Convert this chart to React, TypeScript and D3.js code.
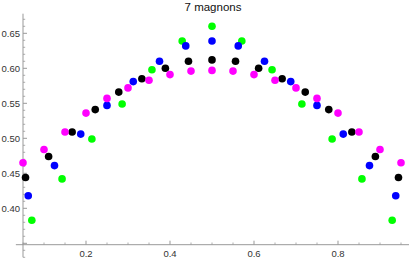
import * as d3 from "d3";

// series, one per chain length (colour picked to match the reference)
const greenX = [0.071, 0.143, 0.214, 0.286, 0.357, 0.429, 0.5, 0.571, 0.643, 0.714, 0.786, 0.857, 0.929];
const greenY = [0.383, 0.442, 0.499, 0.549, 0.598, 0.639, 0.66, 0.639, 0.598, 0.549, 0.499, 0.442, 0.383];

const blueX = [0.0625, 0.125, 0.1875, 0.25, 0.3125, 0.375, 0.4375, 0.5, 0.5625, 0.625, 0.6875, 0.75, 0.8125, 0.875, 0.9375];
const blueY = [0.418, 0.461, 0.506, 0.547, 0.581, 0.61, 0.632, 0.639, 0.632, 0.61, 0.581, 0.547, 0.506, 0.461, 0.418];

const blackX = [0.056, 0.111, 0.167, 0.222, 0.278, 0.333, 0.389, 0.444, 0.5, 0.556, 0.611, 0.667, 0.722, 0.778, 0.833, 0.889, 0.944];
const blackY = [0.444, 0.474, 0.509, 0.541, 0.566, 0.585, 0.6, 0.61, 0.612, 0.61, 0.6, 0.585, 0.566, 0.541, 0.509, 0.474, 0.444];

const magentaX = [0.05, 0.1, 0.15, 0.2, 0.25, 0.3, 0.35, 0.4, 0.45, 0.5, 0.55, 0.6, 0.65, 0.7, 0.75, 0.8, 0.85, 0.9, 0.95];
const magentaY = [0.465, 0.484, 0.509, 0.536, 0.557, 0.572, 0.583, 0.591, 0.596, 0.597, 0.596, 0.591, 0.583, 0.572, 0.557, 0.536, 0.509, 0.484, 0.465];

const xTickLabels = ["0.2", "0.4", "0.6", "0.8"];
const yTickLabels = ["0.40", "0.45", "0.50", "0.55", "0.60", "0.65"];

const series = [
  { xs: greenX, ys: greenY, color: "#00ff00" },
  { xs: blueX, ys: blueY, color: "#0000ff" },
  { xs: blackX, ys: blackY, color: "#000000" },
  { xs: magentaX, ys: magentaY, color: "#ff00ff" },
];

const width = 409;
const height = 260;
const axisColor = "#999";
const labelColor = "#333";
const font = "'Liberation Sans', Arial, sans-serif";

export default function App() {
  const x = d3.scaleLinear().domain([0, 1]).range([2, 422]);
  const y = d3.scaleLinear().domain([0.35, 0.65]).range([243.3, 33.3]);

  const axisX = x(0.05); // where the y axis sits
  const axisY = y(0.348); // where the x axis sits

  const xMinor = d3.range(1, 20).map((i) => i * 0.05);
  const yMinor = d3.range(33, 68).map((i) => i / 100);

  return (
    <svg
      width={width}
      height={height}
      style={{ position: "absolute", left: 0, top: 0, background: "#fff" }}
      fontFamily={font}
    >
      <text x={213} y={11} textAnchor="middle" fontSize={11.5} fill="#111">
        7 magnons
      </text>

      {/* x axis */}
      <line x1={x(0.033)} x2={width} y1={axisY} y2={axisY} stroke={axisColor} strokeWidth={1} />
      {xMinor.map((v) => {
        const major = Math.abs((v * 10) % 2) < 1e-6 || Math.abs((v * 10) % 2 - 2) < 1e-6;
        return (
          <line
            key={`xt${v}`}
            x1={x(v)}
            x2={x(v)}
            y1={axisY}
            y2={axisY - (major ? 4 : 2.2)}
            stroke={axisColor}
            strokeWidth={major ? 1 : 0.8}
          />
        );
      })}
      {xTickLabels.map((t) => (
        <text key={t} x={x(+t)} y={axisY + 12} textAnchor="middle" fontSize={9.5} fill={labelColor}>
          {t}
        </text>
      ))}

      {/* y axis */}
      <line x1={axisX} x2={axisX} y1={y(0.678)} y2={y(0.33)} stroke={axisColor} strokeWidth={1} />
      {yMinor.map((v) => {
        const major = Math.round(v * 100) % 5 === 0;
        return (
          <line
            key={`yt${v}`}
            x1={axisX}
            x2={axisX + (major ? 4 : 2.2)}
            y1={y(v)}
            y2={y(v)}
            stroke={axisColor}
            strokeWidth={major ? 1 : 0.8}
          />
        );
      })}
      {yTickLabels.map((t) => (
        <text key={t} x={axisX - 3} y={y(+t)} dy="0.35em" textAnchor="end" fontSize={9.5} fill={labelColor}>
          {t}
        </text>
      ))}

      {/* points */}
      {series.map((s, si) => (
        <g key={si}>
          {s.xs.map((xv, i) => (
            <circle key={i} cx={x(xv)} cy={y(s.ys[i])} r={3.8} fill={s.color} />
          ))}
        </g>
      ))}
    </svg>
  );
}
